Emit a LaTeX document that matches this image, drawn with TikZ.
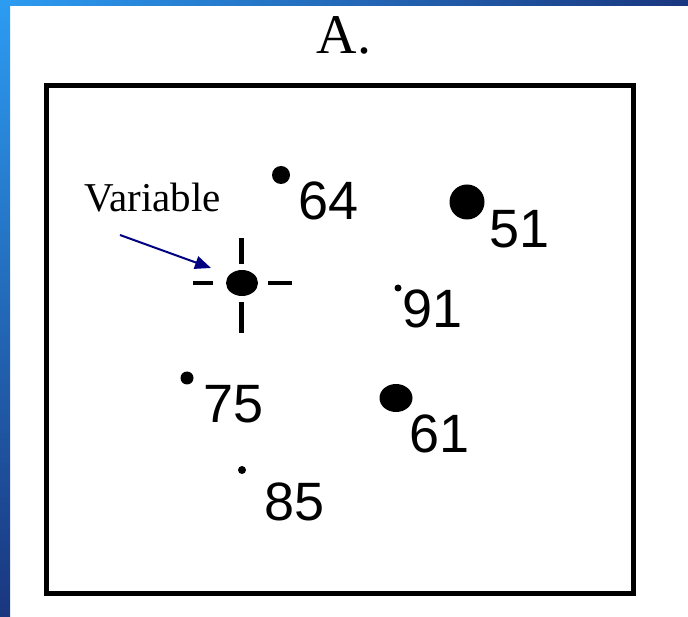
\documentclass[tikz,border=0pt]{standalone}
\usepackage{fontspec}
\setmainfont{Liberation Serif}
\newfontfamily\numfont{Liberation Sans}
\usetikzlibrary{arrows.meta,calc,shapes.geometric}
\definecolor{navyarrow}{HTML}{000080}
\definecolor{edgelight}{HTML}{2C9CF2}
\definecolor{edgemid}{HTML}{2460D2}
\definecolor{edgedark}{HTML}{1A367F}
\definecolor{topmid}{HTML}{3352E6}
\tikzset{
  spot/.style={circle, fill=black, draw=none, inner sep=0pt, minimum size=#1},
  blob/.style 2 args={ellipse, fill=black, draw=none, inner sep=0pt, minimum width=#1, minimum height=#2},
  numlabel/.style={font=\numfont\fontsize{54}{54}\selectfont, inner sep=0pt, anchor=base},
  crossbar/.style={line width=5pt, black},
  framebox/.style={line width=5pt, black},
  pointer/.style={navyarrow, line width=2pt, -{Triangle[length=16pt,width=13pt]}}
}
\begin{document}
\begin{tikzpicture}[x=1pt,y=-1pt]
\useasboundingbox (0,0) rectangle (688,617);
\fill[white] (0,0) rectangle (688,617);
\shade[left color=edgelight, middle color=topmid, right color=edgedark] (0,0) rectangle (688,6);
\shade[top color=edgelight, middle color=edgemid, bottom color=edgedark] (0,0) rectangle (10,617);

% frame
\draw[framebox] (46,86) rectangle (633,593);

% title
\node[font=\fontsize{56}{56}\selectfont, inner sep=0pt, anchor=base] (title) at (344,54) {A.};

% dots
\node[spot=18pt] (d64) at (281,175) {};
\node[spot=35pt] (d51) at (467,202) {};
\node[blob={32pt}{26pt}] (cross) at (242,283) {};
\node[spot=7pt] (d91) at (398,288) {};
\node[spot=13pt] (d75) at (187,378) {};
\node[blob={33pt}{28pt}] (d61) at (396,398) {};
\node[spot=8pt] (d85) at (242,470) {};

% labels
\node[numlabel] (l64) at (329,220) {64};
\node[numlabel] (l51) at (520,248) {51};
\node[numlabel] (l91) at (433,328) {91};
\node[numlabel] (l75) at (234,422) {75};
\node[numlabel] (l61) at (440,452) {61};
\node[numlabel] (l85) at (295,520) {85};

% crosshair
\draw[crossbar] ($(cross)+(-1,-45)$) -- ($(cross)+(-1,-19)$);
\draw[crossbar] ($(cross)+(-1,19)$) -- ($(cross)+(-1,50)$);
\draw[line width=4pt] ($(cross)+(-49,0)$) -- ($(cross)+(-29,0)$);
\draw[line width=4pt] ($(cross)+(26,0)$) -- ($(cross)+(50,0)$);

% Variable label and arrow
\node[font=\fontsize{41}{41}\selectfont, inner sep=0pt, anchor=base west] (var) at (84,212) {Variable};
\coordinate (arrstart) at (120,235);
\coordinate (arrend) at (211,268);
\draw[pointer] (arrstart) -- (arrend);
\end{tikzpicture}
\end{document}
